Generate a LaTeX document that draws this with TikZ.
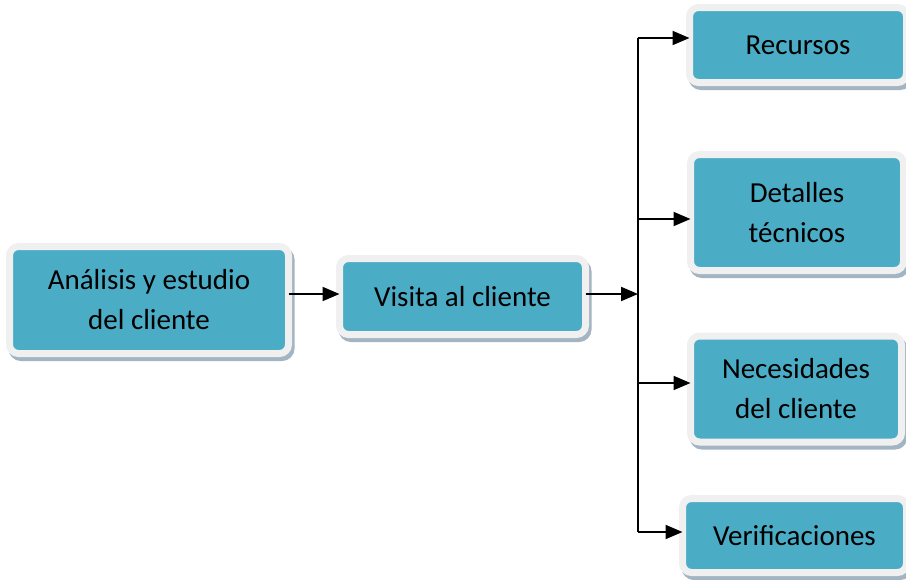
\documentclass[tikz,border=0pt]{standalone}
\usepackage{fontspec}
\setmainfont{Carlito}
\usetikzlibrary{positioning,arrows.meta}
\definecolor{boxfill}{HTML}{4BACC6}
\definecolor{boxrim}{HTML}{F0F0F0}
\definecolor{boxshade}{HTML}{A3B4C2}

\begin{document}
\begin{tikzpicture}[x=1pt,y=-1pt,
    stage/.style={draw=boxrim,fill=boxfill,line width=7pt,rounded corners=9pt,outer sep=0pt,inner sep=0pt,align=center,
      font=\fontsize{29}{40}\selectfont,
      preaction={draw=boxshade,fill=boxshade,transform canvas={shift={(2.5pt,-4pt)}}}},
    link/.style={line width=2pt,-{Triangle[length=17pt,width=14pt]}}]
            \useasboundingbox (0,0) rectangle (906,579);

            \node[stage,minimum width=279,minimum height=107] (analisis) at (149,300) {Análisis y estudio\\del cliente};
            \node[stage,minimum width=246,minimum height=76] (visita) at (462.5,296.5) {Visita al cliente};

            \node[stage,minimum width=217,minimum height=75] (recursos) at (798,45) {Recursos};
            \node[stage,minimum width=213,minimum height=116] (detalles) at (797,212.5) {Detalles\\técnicos};
            \node[stage,minimum width=211,minimum height=106] (necesidades) at (796,389) {Necesidades\\del cliente};
            \node[stage,minimum width=224,minimum height=74] (verif) at (794.5,535.5) {Verificaciones};

            % reparto hacia las cuatro ramas
            \coordinate (fork) at (638,294);
            \coordinate (t1) at (638,38);
            \coordinate (t2) at (638,219);
            \coordinate (t3) at (638,383);
            \coordinate (t4) at (638,532);

            \draw[link] (analisis.east |- fork) -- (visita.west |- fork);
            \draw[link] (visita.east |- fork) -- (fork);
            \draw[line width=2pt] (t1) -- (t4);
            \draw[link] (t1) -- (t1 -| recursos.west);
            \draw[link] (t2) -- (t2 -| detalles.west);
            \draw[link] (t3) -- (t3 -| necesidades.west);
            \draw[link] (t4) -- (t4 -| verif.west);
          \end{tikzpicture}
\end{document}
